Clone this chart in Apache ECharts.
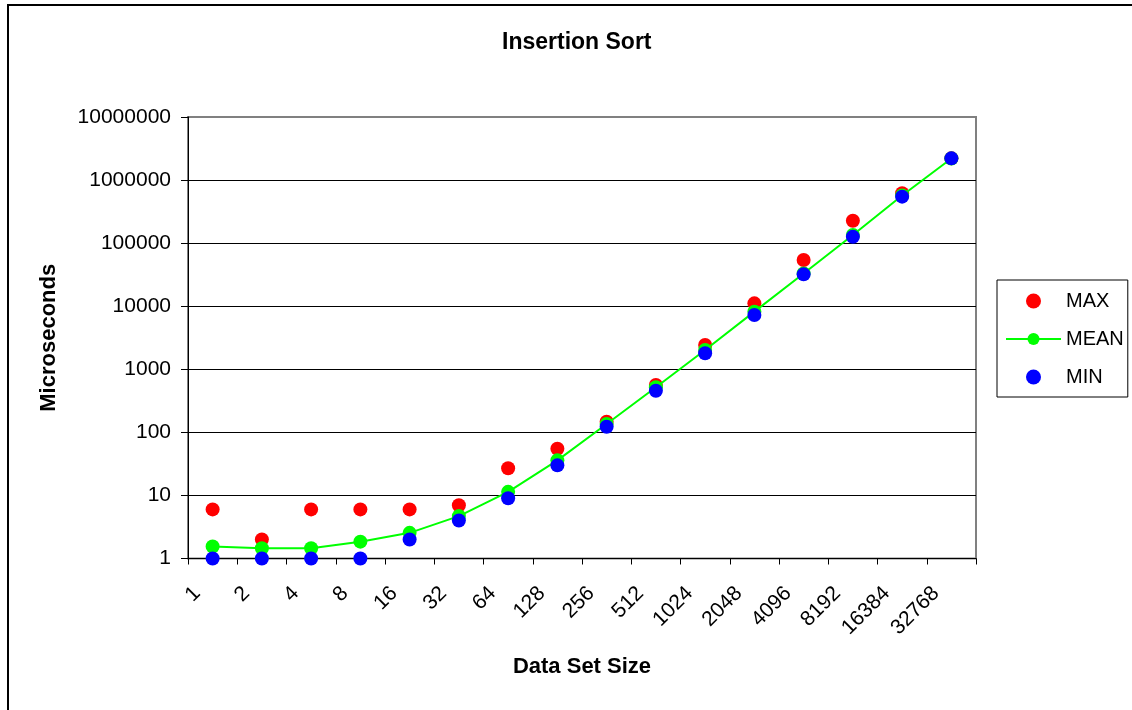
<!DOCTYPE html>
<html>
<head>
<meta charset="utf-8">
<title>Insertion Sort</title>
<script src="https://cdn.jsdelivr.net/npm/echarts@6/dist/echarts.min.js"></script>
<style>
  html, body { margin: 0; padding: 0; background: #fff; }
  #chart { width: 1132px; height: 710px; }
</style>
</head>
<body>
<div id="chart"></div>
<script>
// Data set sizes (powers of two)
const categories = ['1', '2', '4', '8', '16', '32', '64', '128', '256', '512',
  '1024', '2048', '4096', '8192', '16384', '32768'];

// Timings in microseconds
const maxValues  = [6, 2, 6, 6, 6, 7, 27, 55, 147, 564, 2430, 11100, 54000, 227000, 617000, 2210000];
const meanValues = [1.55, 1.45, 1.45, 1.85, 2.55, 4.7, 11.4, 36, 136, 518, 2020, 8200, 33000, 135000, 570000, 2200000];
const minValues  = [1, 1, 1, 1, 2, 4, 9, 30, 123, 458, 1800, 7250, 32000, 126000, 546000, 2210000];

// Decade labels on the log axis
const yTickLabels = ['1', '10', '100', '1000', '10000', '100000', '1000000', '10000000'];

const FONT = 'Liberation Sans, Arial, sans-serif';

const chart = echarts.init(document.getElementById('chart'), null, { renderer: 'canvas' });

chart.setOption({
  backgroundColor: '#ffffff',
  animation: false,
  title: {
    text: 'Insertion Sort',
    left: 497,
    top: 26,
    textStyle: { fontFamily: FONT, fontSize: 23, fontWeight: 'bold', color: '#000' }
  },
  graphic: [{
    type: 'rect',
    shape: { x: 8, y: 5, width: 1200, height: 800 },
    style: { fill: 'none', stroke: '#000', lineWidth: 2 },
    silent: true,
    z: 100
  }],
  legend: {
    orient: 'vertical',
    left: 997,
    top: 280,
    padding: [11, 4, 10, 8],
    itemGap: 18,
    itemWidth: 55,
    itemHeight: 15,
    borderColor: '#000',
    borderWidth: 1,
    backgroundColor: '#fff',
    textStyle: { fontFamily: FONT, fontSize: 20, color: '#000', lineHeight: 20 },
    data: ['MAX', 'MEAN', 'MIN']
  },
  grid: {
    left: 188,
    top: 117,
    right: 156,
    bottom: 151.5,
    show: true,
    borderColor: '#808080',
    borderWidth: 2,
    backgroundColor: '#fff'
  },
  xAxis: {
    type: 'category',
    data: categories,
    boundaryGap: true,
    name: 'Data Set Size',
    nameLocation: 'middle',
    nameGap: 97,
    nameTextStyle: { fontFamily: FONT, fontSize: 22, fontWeight: 'bold', color: '#000' },
    axisLine: { lineStyle: { color: '#000', width: 1 } },
    axisTick: { show: true, length: 6, interval: 0, alignWithLabel: false, lineStyle: { color: '#000' } },
    axisLabel: {
      interval: 0,
      rotate: 45,
      margin: 16,
      padding: [0, 22, 0, 0],
      fontFamily: FONT,
      fontSize: 21,
      color: '#000'
    },
    splitLine: { show: false }
  },
  yAxis: {
    type: 'log',
    logBase: 10,
    min: 1,
    max: 10000000,
    name: 'Microseconds',
    nameLocation: 'middle',
    nameGap: 128,
    nameRotate: 90,
    nameTextStyle: { fontFamily: FONT, fontSize: 22, fontWeight: 'bold', color: '#000' },
    axisLine: { show: true, lineStyle: { color: '#000', width: 1 } },
    axisTick: { show: true, length: 7, lineStyle: { color: '#000' } },
    axisLabel: {
      margin: 17,
      fontFamily: FONT,
      fontSize: 21,
      color: '#000',
      formatter: function (v) {
        return yTickLabels[Math.round(Math.log10(v))];
      }
    },
    splitLine: { show: true, showMaxLine: false, lineStyle: { color: '#000', width: 1 } },
    minorTick: { show: false },
    minorSplitLine: { show: false }
  },
  series: [
    {
      name: 'MAX',
      type: 'scatter',
      data: maxValues,
      symbol: 'circle',
      symbolSize: 14,
      z: 2,
      itemStyle: { color: '#ff0000', opacity: 1 }
    },
    {
      name: 'MEAN',
      type: 'line',
      data: meanValues,
      symbol: 'circle',
      symbolSize: 14,
      showAllSymbol: true,
      z: 3,
      itemStyle: { color: '#00ff00', borderWidth: 0 },
      lineStyle: { color: '#00ff00', width: 2 }
    },
    {
      name: 'MIN',
      type: 'scatter',
      data: minValues,
      symbol: 'circle',
      symbolSize: 14,
      z: 4,
      itemStyle: { color: '#0000ff', opacity: 1 }
    }
  ]
});
</script>
</body>
</html>
